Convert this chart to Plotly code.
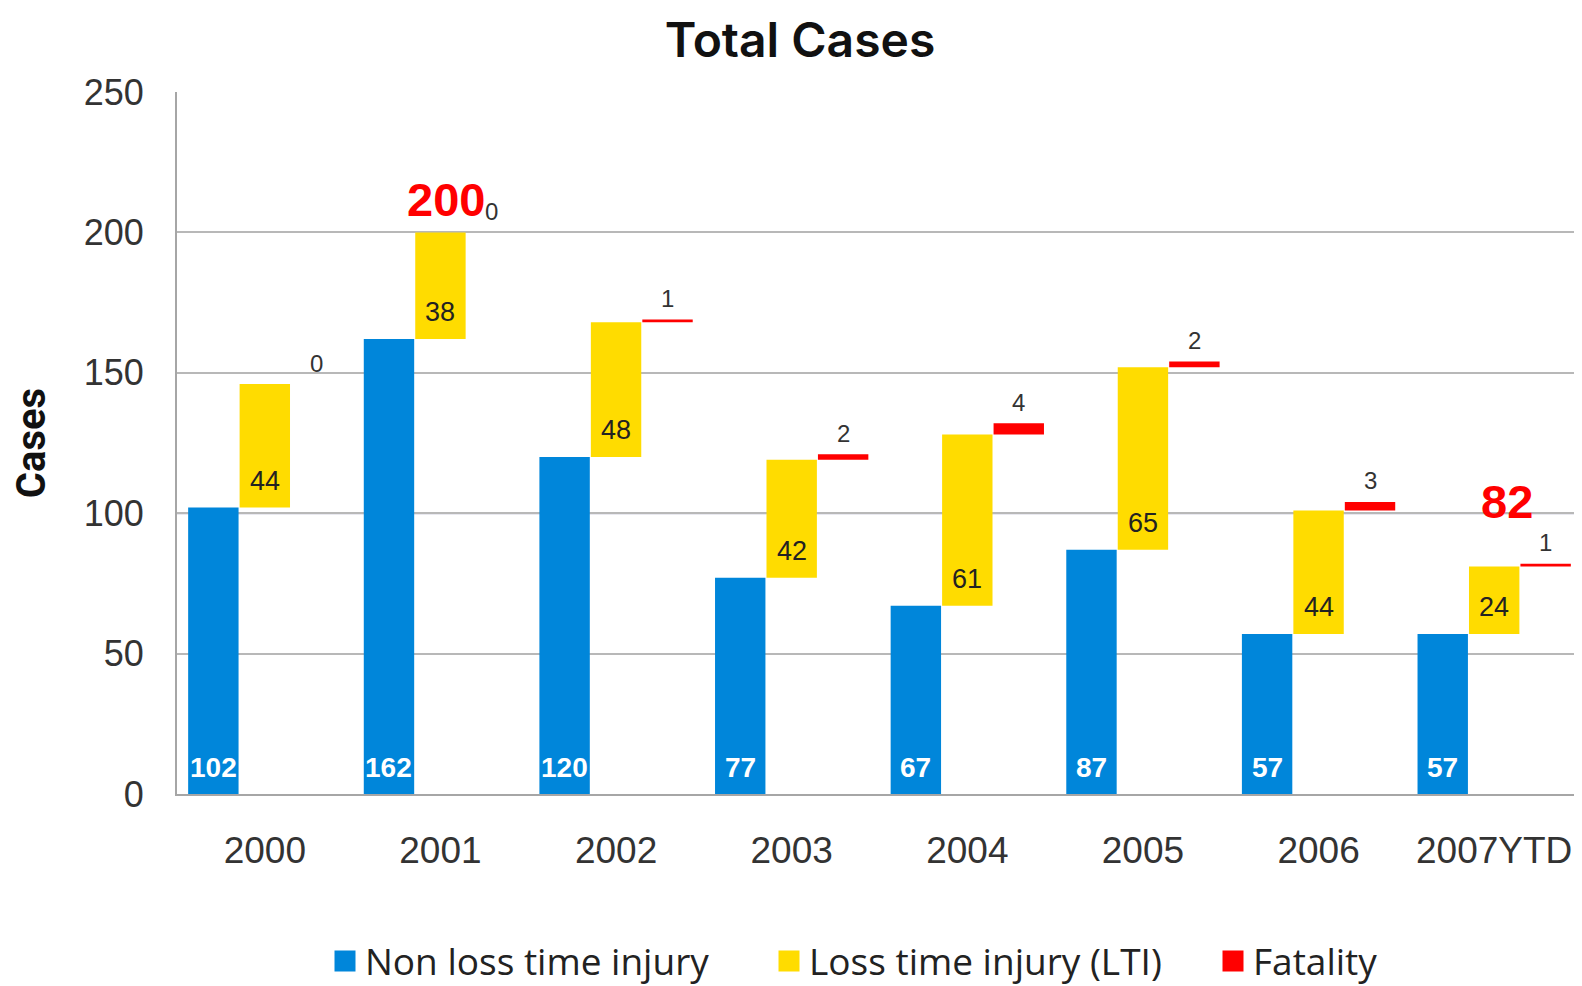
import numpy as np
import plotly.graph_objects as go

years = ["2000", "2001", "2002", "2003", "2004", "2005", "2006", "2007YTD"]
non_lti = [102, 162, 120, 77, 67, 87, 57, 57]
lti = [44, 38, 48, 42, 61, 65, 44, 24]
fatality = [0, 0, 1, 2, 4, 2, 3, 1]
highlight_years = ["2001", "2007YTD"]

BLUE = "#0086DA"
YELLOW = "#FFDC00"
RED = "#FF0000"
OFF = 0.293
W = 0.287

idx = np.arange(len(years))
lti_base = list(non_lti)
fat_base = [a + b for a, b in zip(non_lti, lti)]
totals = [a + b + c for a, b, c in zip(non_lti, lti, fatality)]

fig = go.Figure()
fig.add_trace(go.Bar(x=idx - OFF, y=non_lti, width=W, marker=dict(color=BLUE, line_width=0),
                     name="Non loss time injury", showlegend=False))
fig.add_trace(go.Bar(x=idx, y=lti, base=lti_base, width=W, marker=dict(color=YELLOW, line_width=0),
                     name="Loss time injury (LTI)", showlegend=False))
fig.add_trace(go.Bar(x=idx + OFF, y=fatality, base=fat_base, width=W, marker=dict(color=RED, line_width=0),
                     name="Fatality", showlegend=False))

# legend entries
for nm, col in [("Non loss time injury", BLUE), ("Loss time injury (LTI)", YELLOW), ("Fatality", RED)]:
    fig.add_trace(go.Scatter(x=[None], y=[None], mode="markers", name=nm,
                             marker=dict(symbol="square", size=16, color=col, line=dict(color=col, width=6))))

LBL = "Liberation Sans, Arial, sans-serif"
for i in idx:
    fig.add_annotation(x=i - OFF, y=0, text=str(non_lti[i]), showarrow=False, yanchor="middle", yshift=27,
                       font=dict(family=LBL, size=28, color="white", weight="bold"))
    fig.add_annotation(x=i, y=lti_base[i], text=str(lti[i]), showarrow=False, yanchor="middle", yshift=27,
                       font=dict(family=LBL, size=27, color="#222222"))
    fig.add_annotation(x=i + OFF, y=totals[i], text=str(fatality[i]), showarrow=False, yanchor="middle", yshift=21,
                       font=dict(family=LBL, size=24, color="#333333"))

# highlighted totals
for yr, xs, ys in zip(highlight_years, [6, 13], [33, 62]):
    i = years.index(yr)
    fig.add_annotation(x=i, y=totals[i], text=f"<b>{totals[i]}</b>",
                       showarrow=False, xshift=xs, yshift=ys, yanchor="middle",
                       font=dict(family=LBL, size=47, color=RED))

fig.add_hline(y=100, line=dict(color="#A9A9C4", width=2), layer="below")

FW, FH = 1574, 978
fig.update_layout(
    width=FW, height=FH,
    margin=dict(l=169, r=0, t=84, b=192),
    paper_bgcolor="white", plot_bgcolor="white",
    barmode="overlay",
    title=dict(text="Total Cases", x=792 / FW, xanchor="center", y=1 - 32.5 / FH, yanchor="middle",
               font=dict(family="Inter, Open Sans, sans-serif", size=48, color="#111111", weight=600)),
    legend=dict(orientation="h", xref="container", yref="container",
                x=317 / FW, xanchor="left", y=1 - 953.5 / FH, yanchor="middle",
                entrywidth=399, entrywidthmode="pixels",
                font=dict(family="Open Sans, sans-serif", size=37, color="#222222"),
                itemsizing="trace", bgcolor="rgba(0,0,0,0)"),
    showlegend=True,
)
fig.update_xaxes(range=[-0.5, 7.5], tickmode="array", tickvals=idx, ticktext=years,
                 showgrid=False, zeroline=False, showline=True, linecolor="#A6A6A6", linewidth=2,
                 ticks="", ticklabelstandoff=23,
                 tickfont=dict(family=LBL, size=37, color="#333333"))
fig.update_yaxes(range=[0, 250], tickvals=[0, 50, 100, 150, 200, 250],
                 showgrid=True, gridcolor="#B8B8B8", gridwidth=2, zeroline=False,
                 showline=True, linecolor="#A6A6A6", linewidth=2, ticks="", ticklabelstandoff=24,
                 tickfont=dict(family=LBL, size=36, color="#333333"), automargin=True,
                 title=dict(text="Cases", standoff=37,
                            font=dict(family="Roboto, sans-serif", size=40, color="#111111", weight="bold")))

fig.write_html("out.html")
